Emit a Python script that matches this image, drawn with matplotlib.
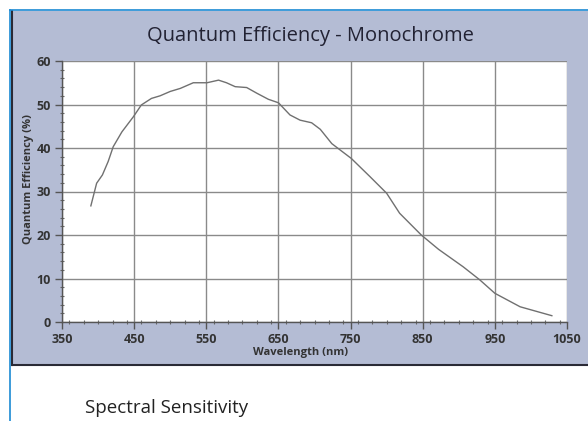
import matplotlib
matplotlib.use('Agg')
import matplotlib.pyplot as plt
import numpy as np
from matplotlib.patches import Rectangle
from matplotlib.lines import Line2D
from matplotlib.ticker import MultipleLocator

plt.rcParams['font.family'] = ['Open Sans', 'DejaVu Sans']

# data
wavelength = [390, 398, 406, 414, 421, 433, 449, 460, 474, 486, 500, 514, 532, 551,
              567, 578, 590, 606, 620, 636, 650, 666, 680, 696, 708, 724, 751, 777,
              800, 818, 848, 872, 906, 929, 950, 985, 1029]
qe = [26.7, 31.9, 33.8, 36.9, 40.3, 43.7, 47.2, 49.9, 51.4, 52.0, 53.0, 53.7, 55.0, 55.0,
      55.6, 55.0, 54.1, 53.9, 52.6, 51.2, 50.4, 47.6, 46.4, 45.8, 44.3, 41.0, 37.6, 33.4,
      29.6, 25.0, 20.0, 16.7, 12.7, 9.7, 6.6, 3.5, 1.45]
xticks = [350, 450, 550, 650, 750, 850, 950, 1050]
yticks = [0, 10, 20, 30, 40, 50, 60]

W, H = 588, 421
fig = plt.figure(figsize=(W / 100, H / 100), dpi=100)
fig.patch.set_facecolor('white')

# grey-blue panel behind the chart
fig.patches.append(Rectangle((11 / W, 1 - 365 / H), 1 - 11 / W, (365 - 11) / H,
                             transform=fig.transFigure, facecolor='#b4bcd4',
                             edgecolor='none', zorder=-10))
# dark border left and bottom of the panel
fig.lines.append(Line2D([12 / W, 12 / W], [1 - 365 / H, 1 - 11 / H],
                        transform=fig.transFigure, color='#2a2a35', lw=1.5, zorder=-5))
fig.lines.append(Line2D([12 / W, 1], [1 - 365 / H, 1 - 365 / H],
                        transform=fig.transFigure, color='#2a2a35', lw=1.5, zorder=-5))
# blue frame lines
fig.lines.append(Line2D([10 / W, 10 / W], [0, 1 - 10 / H],
                        transform=fig.transFigure, color='#1b8ad3', lw=1.2, zorder=-5))
fig.lines.append(Line2D([10 / W, 1], [1 - 10 / H, 1 - 10 / H],
                        transform=fig.transFigure, color='#1b8ad3', lw=1.2, zorder=-5))

ax = fig.add_axes([62 / W, 1 - 322 / H, 505 / W, 261 / H])
ax.set_facecolor('white')
ax.plot(wavelength, qe, color='#707070', lw=1.0, zorder=3)

ax.set_xlim(350, 1050)
ax.set_ylim(0, 60)
ax.set_xticks(xticks)
ax.set_yticks(yticks)
ax.xaxis.set_minor_locator(MultipleLocator(20))
ax.yaxis.set_minor_locator(MultipleLocator(2))
ax.grid(True, which='major', color='#8a8a8a', lw=1.0)
ax.set_axisbelow(True)

for s in ['top', 'right']:
    ax.spines[s].set_visible(False)
for s in ['left', 'bottom']:
    ax.spines[s].set_color('#555555')
    ax.spines[s].set_linewidth(1.0)

ax.tick_params(which='major', length=5, width=1, color='#555555', direction='out',
               labelsize=9, labelcolor='#333333', pad=3)
ax.tick_params(which='minor', length=3, width=0.8, color='#666666', direction='inout')
for lab in ax.get_xticklabels() + ax.get_yticklabels():
    lab.set_fontweight('bold')

fig.text(310 / W, 1 - 36 / H, 'Quantum Efficiency - Monochrome', ha='center', va='center',
         fontsize=14.5, color='#222233')
fig.text(301 / W, 1 - 352 / H, 'Wavelength (nm)', ha='center', va='center',
         fontsize=8, fontweight='bold', color='#333333')
fig.text(28 / W, 1 - 179 / H, 'Quantum Efficiency (%)', ha='center', va='center',
         rotation=90, fontsize=8, fontweight='bold', color='#333333')
fig.text(85 / W, 1 - 408 / H, 'Spectral Sensitivity', ha='left', va='center',
         fontsize=13.5, color='#222222')

plt.savefig('out.png', dpi=100)
plt.close()
